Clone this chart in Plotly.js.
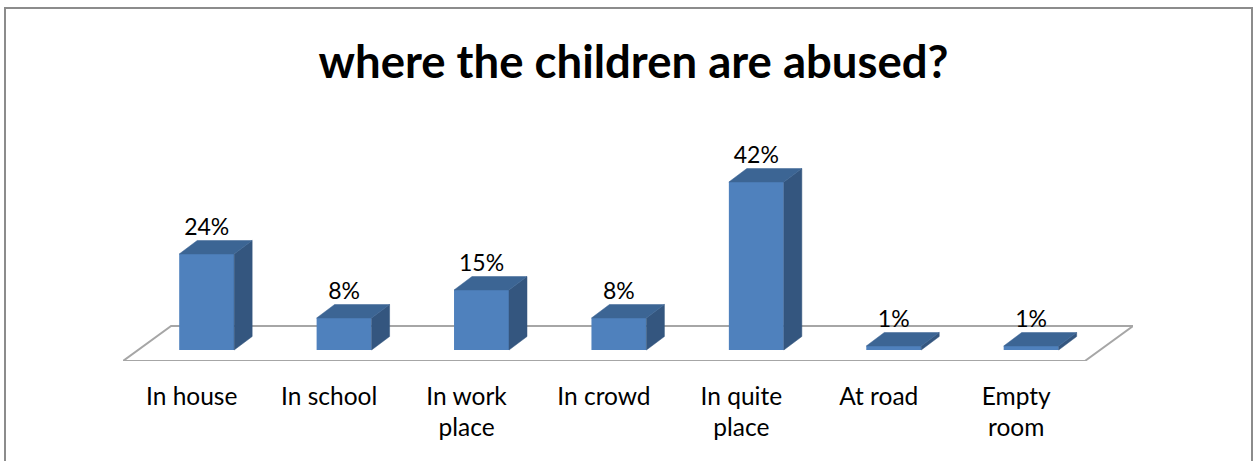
<!DOCTYPE html>
<html>
<head>
<meta charset="utf-8">
<script src="https://cdn.plot.ly/plotly-3.0.1.min.js"></script>
<style>
  html, body { margin: 0; padding: 0; background: #ffffff; }
  #chart { width: 1254px; height: 461px; }
</style>
</head>
<body>
<div id="chart"></div>
<script>
// ---- data ----
const categories = ['In house', 'In school', 'In work place', 'In crowd', 'In quite place', 'At road', 'Empty room'];
const tickLabels = ['In house', 'In school', 'In work<br>place', 'In crowd', 'In quite<br>place', 'At road', 'Empty<br>room'];
const values = [24, 8, 15, 8, 42, 1, 1];
const valueLabels = values.map(v => v + '%');

// ---- style constants (pseudo-3D geometry, in axis units) ----
const OFF = 0.109;      // front face shift from category centre
const BW = 0.40;        // bar width
const DX = 0.131;       // bar depth (x)
const DY = 3.375;       // bar depth (y)
const FLOOR_Y0 = -2.75; // floor front edge
const FLOOR_DX = 0.35;  // floor depth (x)
const FLOOR_DY = 8.75;  // floor depth (y)

const FRONT = '#4F81BD', SIDE = '#34567F', TOP = '#3C6594';

const idx = categories.map((_, i) => i);
const n = categories.length;

// floor (drawn as a shape beneath all traces)
const fx0 = -0.5, fx1 = n - 0.5;
const floorPath = 'M ' + fx0 + ',' + FLOOR_Y0 +
  ' L ' + fx1 + ',' + FLOOR_Y0 +
  ' L ' + (fx1 + FLOOR_DX) + ',' + (FLOOR_Y0 + FLOOR_DY) +
  ' L ' + (fx0 + FLOOR_DX) + ',' + (FLOOR_Y0 + FLOOR_DY) + ' Z';

// side + top faces
const sideX = [], sideY = [], topX = [], topY = [];
idx.forEach(i => {
  const v = values[i];
  const xl = i + OFF - BW / 2, xr = i + OFF + BW / 2;
  sideX.push(xr, xr + DX, xr + DX, xr, xr, null);
  sideY.push(0, DY, v + DY, v, 0, null);
  topX.push(xl, xl + DX, xr + DX, xr, xl, null);
  topY.push(v, v + DY, v + DY, v, v, null);
});

const traces = [
  { type: 'scatter', mode: 'lines', x: sideX, y: sideY, fill: 'toself', fillcolor: SIDE,
    line: { color: SIDE, width: 0.5 }, hoverinfo: 'skip' },
  { type: 'scatter', mode: 'lines', x: topX, y: topY, fill: 'toself', fillcolor: TOP,
    line: { color: TOP, width: 0.5 }, hoverinfo: 'skip' },
  { type: 'scatter', mode: 'text', x: idx.map(i => i + OFF), y: values.map(v => v + DY),
    text: valueLabels, textposition: 'top center', cliponaxis: false,
    textfont: { family: 'Lato, sans-serif', size: 23, color: '#000000' }, hoverinfo: 'skip' },
  { type: 'bar', x: idx.map(i => i + OFF), y: values, width: BW,
    marker: { color: FRONT, line: { width: 0 } }, hoverinfo: 'skip' }
];

const layout = {
  width: 1254, height: 461,
  margin: { l: 123, r: 121, t: 150, b: 100 },
  paper_bgcolor: '#ffffff', plot_bgcolor: 'rgba(0,0,0,0)',
  showlegend: false, hovermode: false,
  title: { text: '<b>where the children are abused?</b>', xref: 'container', x: 0.5052,
           yref: 'container', y: 1 - 62 / 461, yanchor: 'middle', xanchor: 'center',
           font: { family: 'Lato, sans-serif', size: 45.5, color: '#000000' } },
  xaxis: { range: [-0.5, n - 0.5 + FLOOR_DX], showgrid: false, zeroline: false, showline: false,
           tickmode: 'array', tickvals: idx, ticktext: tickLabels, ticks: '',
           ticklabelstandoff: 18,
           tickfont: { family: 'Lato, sans-serif', size: 24.5, color: '#000000' }, fixedrange: true },
  yaxis: { range: [FLOOR_Y0, 50], visible: false, fixedrange: true },
  shapes: [
    { type: 'path', xref: 'x', yref: 'y', path: floorPath,
      line: { color: '#A6A6A6', width: 2 }, fillcolor: '#ffffff', layer: 'below' },
    { type: 'rect', xref: 'paper', yref: 'paper',
      x0: (5 - 123) / 1010, x1: (1252 - 123) / 1010, y0: (361 - 480) / 211, y1: (361 - 8) / 211,
      line: { color: '#8C8C8C', width: 2 }, fillcolor: 'rgba(0,0,0,0)', layer: 'below' }
  ]
};

Plotly.newPlot('chart', traces, layout, { displayModeBar: false, staticPlot: true });
</script>
</body>
</html>
